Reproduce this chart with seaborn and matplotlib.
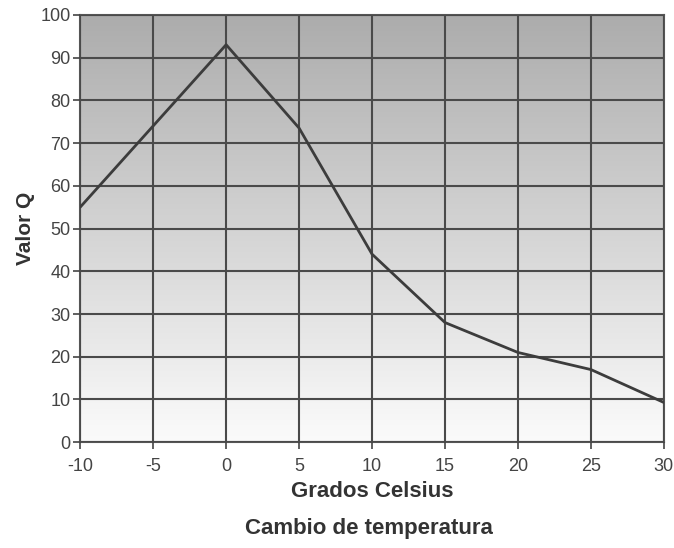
import matplotlib
matplotlib.use("Agg")
import matplotlib.pyplot as plt
import seaborn as sns
import numpy as np
import pandas as pd

# Datos
grados = [-10, -5, 0, 5, 10, 15, 20, 25, 30]
valor_q = [55, 74, 93, 73.5, 44, 28, 21, 17, 9.3]
xticks = [-10, -5, 0, 5, 10, 15, 20, 25, 30]
yticks = [0, 10, 20, 30, 40, 50, 60, 70, 80, 90, 100]

df = pd.DataFrame({"Grados": grados, "Q": valor_q})

sns.set_style("white")
plt.rcParams["font.family"] = ["Liberation Sans", "DejaVu Sans"]

fig = plt.figure(figsize=(6.74, 5.48), dpi=100)
ax = fig.add_axes([0.119, 0.193, 0.866, 0.78])

# fondo degradado gris -> blanco
grad = np.linspace(0, 1, 256).reshape(-1, 1)
cmap = matplotlib.colors.LinearSegmentedColormap.from_list("g", ["#fbfbfb", "#acacac"])
ax.imshow(grad, aspect="auto", cmap=cmap, origin="lower",
          extent=[-10, 30, 0, 100], zorder=0)

sns.lineplot(data=df, x="Grados", y="Q", ax=ax, color="#3c3c3c", linewidth=2, zorder=3)

ax.set_xlim(-10, 30)
ax.set_ylim(0, 100)
ax.set_xticks(xticks)
ax.set_yticks(yticks)
ax.set_xticklabels([str(t) for t in xticks], fontsize=13, color="#444444")
ax.set_yticklabels([str(t) for t in yticks], fontsize=13, color="#444444")
ax.grid(True, color="#4a4a4a", linewidth=1.5, zorder=1)
ax.set_axisbelow(False)
ax.tick_params(axis="both", direction="out", length=5, width=1.2, color="#444444",
               bottom=True, left=True)
ax.tick_params(axis="x", pad=6)
ax.tick_params(axis="y", pad=2)

for s in ax.spines.values():
    s.set_color("#555555")
    s.set_linewidth(1.5)

ax.set_xlabel("Grados Celsius", fontsize=16, fontweight="bold", color="#333333", labelpad=5)
ax.set_ylabel("Valor Q", fontsize=15, fontweight="bold", color="#333333", labelpad=4)
fig.text(0.548, 0.026, "Cambio de temperatura", ha="center", fontsize=16,
         fontweight="bold", color="#333333")

fig.savefig("out.png", dpi=100)
